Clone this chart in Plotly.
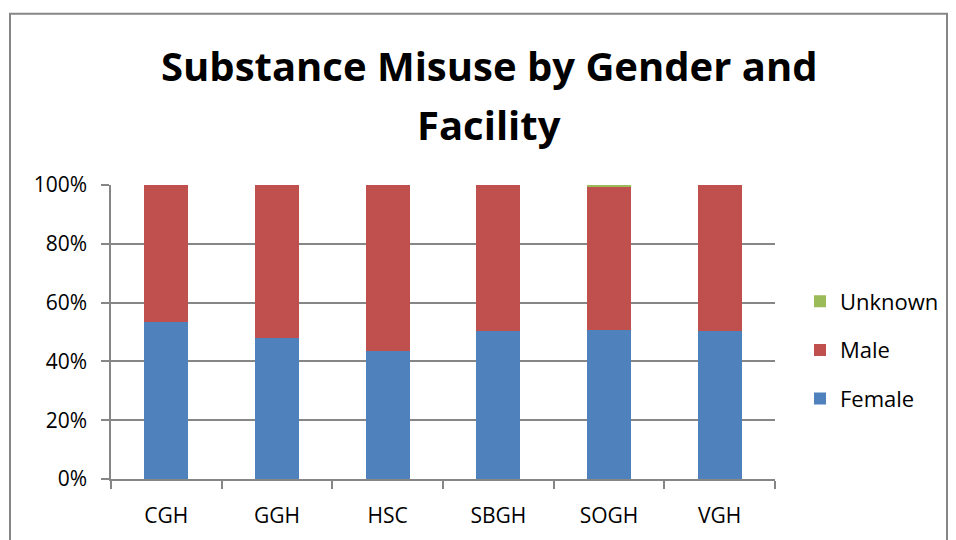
import plotly.graph_objects as go

facilities = ["CGH", "GGH", "HSC", "SBGH", "SOGH", "VGH"]
female = [53.4, 48.1, 43.7, 50.4, 50.8, 50.2]
unknown = [0.0, 0.0, 0.0, 0.0, 0.5, 0.0]
male = [round(100 - f - u, 1) for f, u in zip(female, unknown)]
y_ticks = [0, 20, 40, 60, 80, 100]
y_tick_labels = ["0%", "20%", "40%", "60%", "80%", "100%"]
title_lines = ["Substance Misuse by Gender and", "Facility"]

FONT = "Open Sans"
GRAY = "#868686"
fig = go.Figure()
series = [("Female", female, "#4F81BD", 3), ("Male", male, "#C0504D", 2), ("Unknown", unknown, "#9BBB59", 1)]
for name, vals, col, rank in series:
    fig.add_trace(go.Bar(x=facilities, y=vals, name=name, legendgroup=name, legendrank=rank,
                         marker=dict(color=col, line=dict(width=0))))

L, R, T, B = 111, 181, 184.5, 61
W, H = 956, 540
pw = W - L - R
ph = H - T - B

def py(y_px):
    return (H - B - y_px) / ph

def px(x_px):
    return (x_px - L) / pw

annotations = [
    dict(text="<b>%s</b>" % title_lines[0], x=px(489), y=py(65)),
    dict(text="<b>%s</b>" % title_lines[1], x=px(489), y=py(124)),
]
for a in annotations:
    a.update(xref="paper", yref="paper", xanchor="center", yanchor="middle",
             showarrow=False, font=dict(family=FONT, size=40, color="black"))

fig.update_layout(
    width=W, height=H,
    barmode="stack", bargap=0.6,
    paper_bgcolor="white", plot_bgcolor="white",
    margin=dict(l=L, r=R, t=T, b=B, pad=0),
    font=dict(family=FONT, color="black", size=21),
    annotations=annotations,
    legend=dict(xref="container", yref="container", x=800 / W, y=1 - 350 / H,
                xanchor="left", yanchor="middle",
                traceorder="grouped", tracegroupgap=17, bgcolor="rgba(0,0,0,0)",
                font=dict(family=FONT, size=22), itemwidth=30),
    xaxis=dict(type="category", showline=True, linecolor=GRAY, linewidth=1.5,
               ticks="outside", tickson="boundaries", ticklen=8, tickcolor=GRAY,
               tickwidth=1.5, showgrid=False, tickfont=dict(size=21),
               ticklabelstandoff=17),
    yaxis=dict(range=[0, 100], tickvals=y_ticks, ticktext=y_tick_labels,
               showline=True, linecolor=GRAY, linewidth=1.5,
               ticks="outside", ticklen=8, tickcolor=GRAY, tickwidth=1.5,
               showgrid=True, gridcolor=GRAY, gridwidth=1.5,
               zeroline=False, tickfont=dict(size=21), ticklabelstandoff=10),
    shapes=[dict(type="rect", xref="paper", yref="paper",
                 x0=px(10), x1=px(947), y0=py(560), y1=py(13),
                 line=dict(color=GRAY, width=2), fillcolor="rgba(0,0,0,0)",
                 layer="below")],
)
fig.write_html("out.html", config={"displayModeBar": False},
               post_script="document.body.style.margin='0';")
